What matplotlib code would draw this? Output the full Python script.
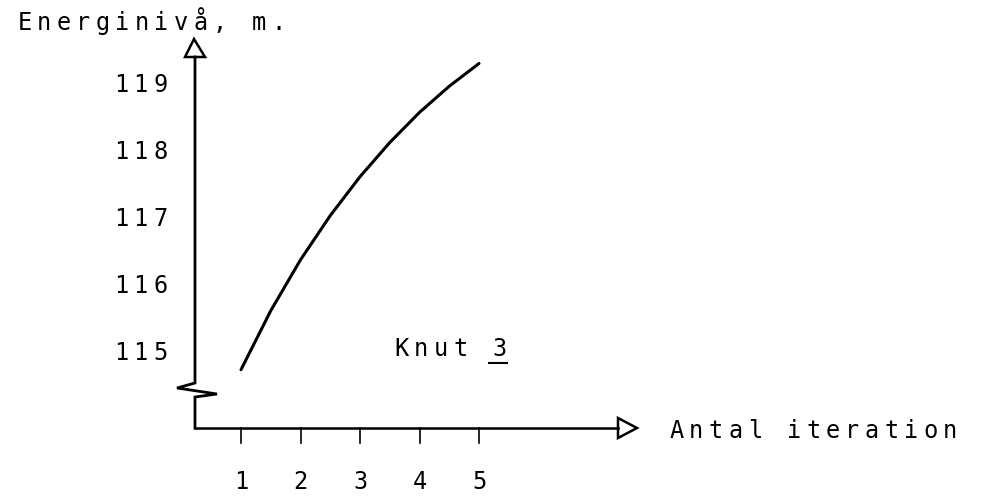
import matplotlib
matplotlib.use("Agg")
import matplotlib.pyplot as plt
import matplotlib.transforms as mtransforms
from matplotlib.patches import Polygon

# values (Knut 3)
iterations = [1, 1.5, 2, 2.5, 3, 3.5, 4, 4.5, 5]
energy = [114.75, 115.63, 116.39, 117.05, 117.63, 118.14, 118.59, 118.98, 119.32]
x_ticks = [1, 2, 3, 4, 5]
y_ticks = [115, 116, 117, 118, 119]
y_label = "Energinivå, m."
x_label = "Antal iteration"
node_label = "Knut 3"

W, H = 981, 496
fig = plt.figure(figsize=(W / 100, H / 100), dpi=100)
fig.patch.set_facecolor("white")
ax = fig.add_axes([195 / W, 1 - 428 / H, (637 - 195) / W, (428 - 38) / H])
ax.set_xlim(0.227, 7.655)
ax.set_ylim(113.88, 119.70)
ax.axis("off")

# pixel coords with origin top-left, like the scan
px = mtransforms.Affine2D().scale(1 / W, -1 / H).translate(0, 1) + fig.transFigure
blend_y = mtransforms.blended_transform_factory(px, ax.transData)
blend_x = mtransforms.blended_transform_factory(ax.transData, px)

PITCH = 19.5  # typewriter pitch, px per char


def typed(x, y, s, trans, ha="left", size=17):
    # place each char on a fixed pitch, printer style
    n = len(s)
    start = {"left": 0, "right": -n * PITCH, "center": -n * PITCH / 2}[ha]
    for i, ch in enumerate(s):
        off = mtransforms.ScaledTranslation((start + (i + 0.5) * PITCH) / 100, 0,
                                            fig.dpi_scale_trans)
        fig.text(x, y, ch, transform=trans + off, ha="center", va="center",
                 fontsize=size, family="DejaVu Sans Mono", color="black")


# axes drawn by hand, with the break on the y axis
yaxis_px = [(195, 57), (195, 383), (177, 388), (217, 394), (195, 397), (195, 428)]
fig.add_artist(plt.Line2D([p[0] for p in yaxis_px], [p[1] for p in yaxis_px],
                          transform=px, color="k", lw=2, solid_joinstyle="miter"))
fig.add_artist(plt.Line2D([195, 618], [428, 428], transform=px, color="k", lw=1.8))
fig.add_artist(Polygon([(185, 57), (205, 57), (194, 39)], closed=True, transform=px,
                       facecolor="white", edgecolor="k", lw=1.8))
fig.add_artist(Polygon([(618, 418), (618, 438), (637, 428)], closed=True, transform=px,
                       facecolor="white", edgecolor="k", lw=1.8))

# x ticks below the axis
for t in x_ticks:
    ax.plot([t, t], [428, 443], transform=blend_x, color="k", lw=1.2, clip_on=False)
    typed(t, 482, str(t), blend_x, ha="center")

for v in y_ticks:
    typed(170, v, str(v), blend_y, ha="right")

# the curve
ax.plot(iterations, energy, color="k", lw=2.2, solid_capstyle="round",
        solid_joinstyle="round", clip_on=False)

typed(15, 23, y_label, px)
typed(667, 431, x_label, px)
typed(392, 349, node_label, px)
fig.add_artist(plt.Line2D([489, 507], [363, 363], transform=px, color="k", lw=1.5))

fig.savefig("out.png", dpi=100)
